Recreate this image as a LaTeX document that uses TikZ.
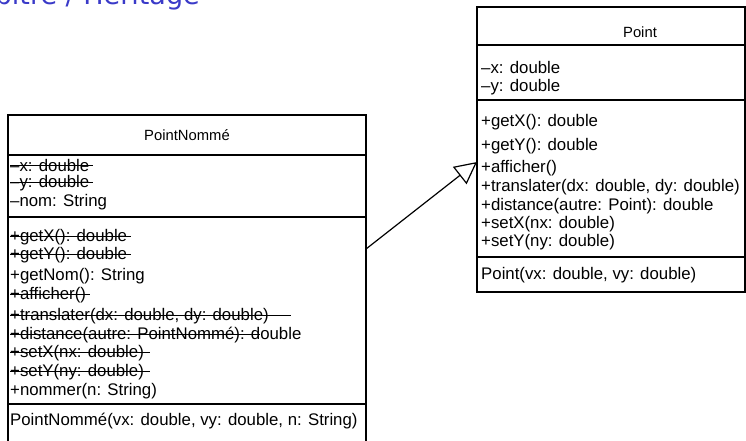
\documentclass[tikz,border=0pt]{standalone}
\usepackage{fontspec}
\setmainfont{Liberation Sans}
\newfontfamily\headfont{DejaVu Sans}
\usetikzlibrary{arrows.meta}
\definecolor{headblue}{RGB}{58,58,200}
% struck-out member: #1 = extra length of the stroke past the text
\newcommand\strk[2][4pt]{\setbox0\hbox{#2}\rlap{\rule[0.28em]{\dimexpr\wd0+#1\relax}{0.9pt}}\box0}

\tikzset{
  member/.style={anchor=west, inner sep=0pt, font=\fontsize{16.8}{20}\selectfont},
  classname/.style={anchor=center, inner sep=0pt, font=\fontsize{14.8}{18}\selectfont},
  classbox/.style={draw, line width=1.4pt, inner sep=0pt, outer sep=0pt, anchor=north west},
  rule/.style={line width=1.4pt},
  inherit/.style={line width=1.2pt, -{Triangle[open, length=22pt, width=22pt, line width=1.2pt]}}
}

\begin{document}
\begin{tikzpicture}[x=1pt, y=-1pt]
\useasboundingbox (0,0) rectangle (746,441);
\clip (0,0) rectangle (746,441);

% heading (mostly above the page)
\node[anchor=base east, text=headblue, inner sep=0pt,
      font=\headfont\fontsize{27}{30}\selectfont] (head) at (200,5) {Chapitre / Héritage};

% ---- class PointNommé ----
\node[classbox, minimum width=358pt, minimum height=345pt] (pn) at (8,115) {};
\draw[rule] (pn.west |- 0,155) -- (pn.east |- 0,155);
\draw[rule] (pn.west |- 0,217) -- (pn.east |- 0,217);
\draw[rule] (pn.west |- 0,404) -- (pn.east |- 0,404);
\node[classname] (pnname) at (187,135) {PointNommé};
\node[member] (pna1) at (10,165) {\strk{–x: double}};
\node[member] (pna2) at (10,183) {\strk{–y: double}};
\node[member] (pna3) at (10,202) {–nom: String};
\node[member] (pnm1) at (10,237) {\strk{+getX(): double}};
\node[member] (pnm2) at (10,255) {\strk{+getY(): double}};
\node[member] (pnm3) at (10,276) {+getNom(): String};
\node[member] (pnm4) at (10,295) {\strk{+afficher()}};
\node[member] (pnm5) at (10,316) {\strk[22pt]{+translater(dx: double, dy: double)}};
\node[member] (pnm6) at (10,335) {\strk[0pt]{+distance(autre: PointNommé): d}ouble};
\node[member] (pnm7) at (10,353) {\strk[6pt]{+setX(nx: double)}};
\node[member] (pnm8) at (10,372) {\strk[6pt]{+setY(ny: double)}};
\node[member] (pnm9) at (10,391) {+nommer(n: String)};
\node[member] (pnc1) at (10,421) {PointNommé(vx: double, vy: double, n: String)};

% ---- class Point ----
\node[classbox, minimum width=268pt, minimum height=285pt] (pt) at (477,7) {};
\draw[rule] (pt.west |- 0,45) -- (pt.east |- 0,45);
\draw[rule] (pt.west |- 0,100) -- (pt.east |- 0,100);
\draw[rule] (pt.west |- 0,257) -- (pt.east |- 0,257);
\node[classname] (ptname) at (640,32) {Point};
\node[member] (pta1) at (481,67) {–x: double};
\node[member] (pta2) at (481,87) {–y: double};
\node[member] (ptm1) at (481,122) {+getX(): double};
\node[member] (ptm2) at (481,146) {+getY(): double};
\node[member] (ptm3) at (481,168) {+afficher()};
\node[member] (ptm4) at (481,187) {+translater(dx: double, dy: double)};
\node[member] (ptm5) at (481,206) {+distance(autre: Point): double};
\node[member] (ptm6) at (481,224) {+setX(nx: double)};
\node[member] (ptm7) at (481,242) {+setY(ny: double)};
\node[member] (ptc1) at (481,275) {Point(vx: double, vy: double)};

% ---- generalisation ----
\coordinate (src) at (pn.east |- 0,249);
\coordinate (dst) at (pt.west |- 0,162);
\draw[inherit] (src) -- (dst);
\end{tikzpicture}
\end{document}
